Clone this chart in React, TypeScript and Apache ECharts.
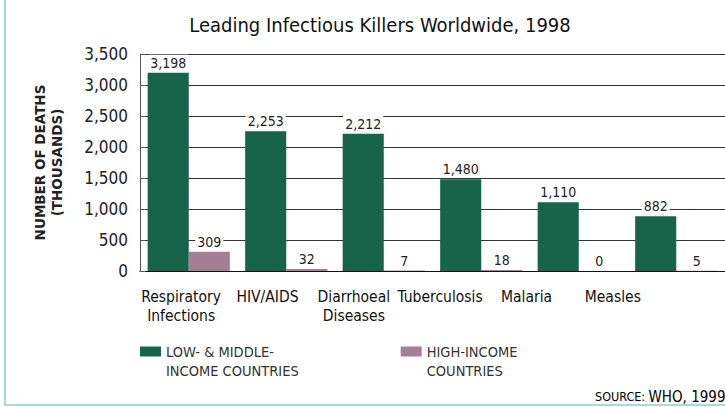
import React, { useEffect, useRef } from "react";
import * as echarts from "echarts";

const categories = ["Respiratory\nInfections", "HIV/AIDS", "Diarrhoeal\nDiseases", "Tuberculosis", "Malaria", "Measles"];
const lowMiddle = [3198, 2253, 2212, 1480, 1110, 882];
const highIncome = [309, 32, 7, 18, 0, 5];
const yTicks = { min: 0, max: 3500, interval: 500 };
const seriesNames = ["LOW- & MIDDLE-\nINCOME COUNTRIES", "HIGH-INCOME\nCOUNTRIES"];

const FONT = "'Liberation Sans Narrow', 'DejaVu Sans Condensed', 'Roboto', sans-serif";
const fmt = (v: number) => v.toLocaleString("en-US");

export default function App() {
  const ref = useRef<HTMLDivElement>(null);
  useEffect(() => {
    if (!ref.current) return;
    const chart = echarts.init(ref.current, null, { renderer: "svg" });
    const labelCfg = {
      show: true,
      position: "top",
      distance: 3,
      formatter: (p: any) => fmt(p.value),
      fontFamily: FONT,
      fontSize: 14,
      color: "#222",
      backgroundColor: "#fff",
      padding: [1, 2, 0, 2],
    };
    chart.setOption({
      animation: false,
      backgroundColor: "#fff",
      textStyle: { fontFamily: FONT },
      title: {
        text: "Leading Infectious Killers Worldwide, 1998",
        left: 375,
        textAlign: "center",
        top: 10,
        textStyle: { fontFamily: FONT, fontSize: 20, fontWeight: "normal", color: "#111" },
      },
      grid: [
        { left: 140, top: 54, width: 591, height: 217, containLabel: false },
        { left: 138, top: 54, width: 518, height: 217, containLabel: false },
      ],
      legend: {
        left: 140,
        top: 323,
        padding: 0,
        itemWidth: 21,
        itemHeight: 10,
        itemGap: 102,
        icon: "rect",
        formatter: (name: string) => " \n" + name,
        textStyle: { fontFamily: FONT, fontSize: 14.5, lineHeight: 19, color: "#333" },
        data: seriesNames,
      },
      xAxis: [
        {
          type: "category",
          gridIndex: 0,
          data: categories,
          axisLine: { show: true, lineStyle: { color: "#111", width: 1 } },
          axisTick: { show: false },
          axisLabel: { show: false },
        },
        {
          type: "category",
          gridIndex: 1,
          data: categories,
          axisLine: { show: false },
          axisTick: { show: false },
          axisLabel: { show: true, fontFamily: FONT, fontSize: 15.5, lineHeight: 19, color: "#111", margin: 16, interval: 0 },
        },
      ],
      yAxis: [
        {
          type: "value",
          gridIndex: 0,
          min: yTicks.min,
          max: yTicks.max,
          interval: yTicks.interval,
          name: "NUMBER OF DEATHS\n(THOUSANDS)",
          nameLocation: "middle",
          nameRotate: 90,
          nameGap: 75,
          nameTextStyle: { fontFamily: "'DejaVu Sans', sans-serif", fontSize: 13.5, fontWeight: "bold", lineHeight: 17, color: "#222" },
          axisLine: { show: true, lineStyle: { color: "#555", width: 1 } },
          axisTick: { show: true, inside: true, length: 6, lineStyle: { color: "#555" } },
          axisLabel: { fontFamily: FONT, fontSize: 17, color: "#222", margin: 12, formatter: (v: number) => fmt(v) },
          splitLine: { show: true, lineStyle: { color: "#333", width: 1 } },
        },
        {
          type: "value",
          gridIndex: 1,
          show: false,
          min: 0,
          max: 1,
        },
      ],
      series: [
        {
          name: seriesNames[0],
          type: "bar",
          xAxisIndex: 0,
          yAxisIndex: 0,
          data: lowMiddle,
          itemStyle: { color: "#17644a" },
          barGap: "0%",
          barCategoryGap: "15.7%",
          label: labelCfg,
        },
        {
          name: seriesNames[1],
          type: "bar",
          xAxisIndex: 0,
          yAxisIndex: 0,
          data: highIncome,
          itemStyle: { color: "#a57e95" },
          barGap: "0%",
          barCategoryGap: "15.7%",
          label: labelCfg,
        },
      ],
      graphic: [
        { type: "line", shape: { x1: 5, y1: 0, x2: 5, y2: 405 }, style: { stroke: "#aad8dc", lineWidth: 2 } },
        { type: "line", shape: { x1: 4, y1: 405, x2: 725, y2: 405 }, style: { stroke: "#aad8dc", lineWidth: 2 } },
        {
          type: "text",
          left: 595,
          top: 389,
          style: {
            text: "{a|SOURCE:} {b|WHO, 1999}",
            rich: {
              a: { fontFamily: FONT, fontSize: 12.5, color: "#333" },
              b: { fontFamily: FONT, fontSize: 15, color: "#222" },
            },
          },
        },
      ],
    });
    return () => chart.dispose();
  }, []);
  return <div ref={ref} style={{ position: "fixed", left: 0, top: 0, width: 725, height: 407 }} />;
}
